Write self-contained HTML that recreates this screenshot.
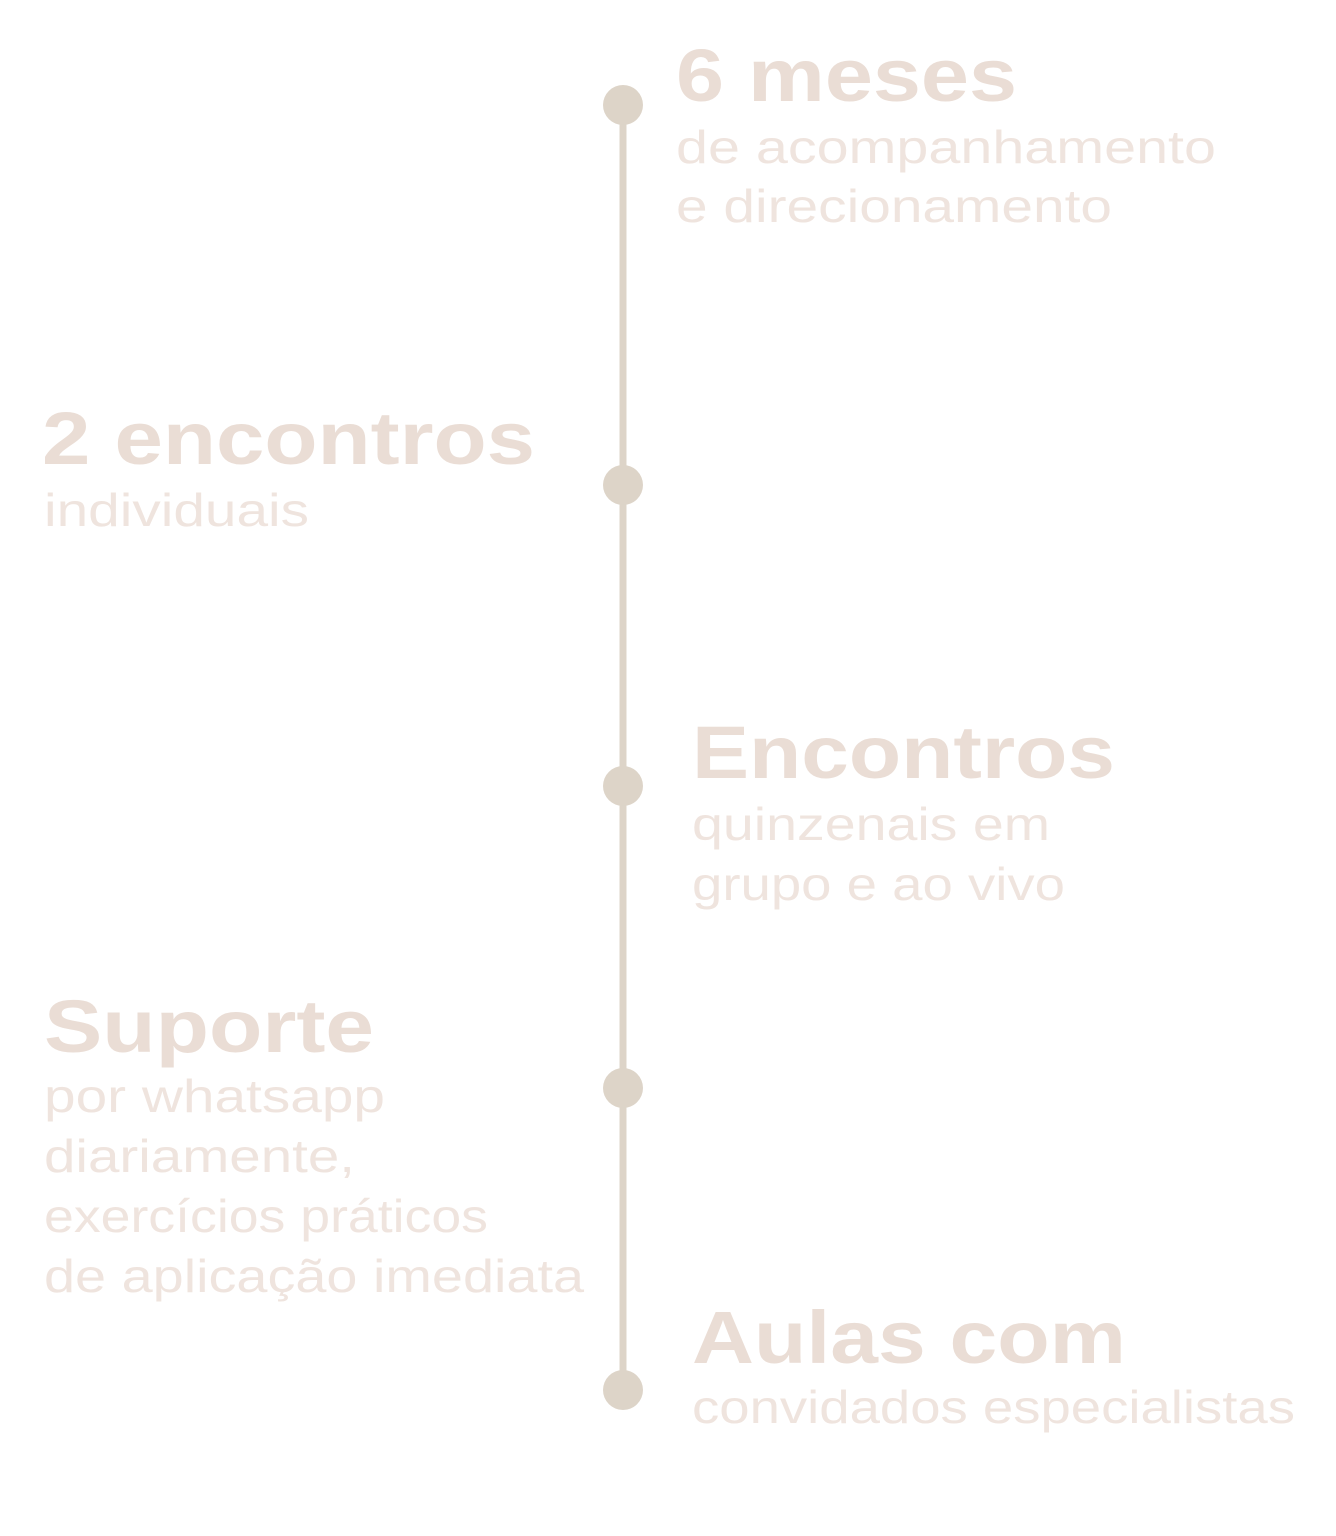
<!DOCTYPE html>
<html><head><meta charset="utf-8"><style>html,body{margin:0;padding:0;background:#fff}svg{display:block}</style></head>
<body>
<svg width="1336" height="1536" viewBox="0 0 1336 1536" xmlns="http://www.w3.org/2000/svg">
<rect width="1336" height="1536" fill="#fff"/>
<line x1="623" y1="105" x2="623" y2="1390" stroke="#ddd4c8" stroke-width="7"/>
<g fill="#ddd4c8">
<circle cx="623" cy="105" r="20"/><circle cx="623" cy="485" r="20"/><circle cx="623" cy="786" r="20"/><circle cx="623" cy="1088" r="20"/><circle cx="623" cy="1390" r="20"/>
</g>
<g font-family="Liberation Sans, sans-serif" font-weight="bold" font-size="74" fill="#eaddd5" lengthAdjust="spacingAndGlyphs">
<text x="676" y="101" textLength="341" lengthAdjust="spacingAndGlyphs">6 meses</text>
<text x="42" y="464" textLength="493" lengthAdjust="spacingAndGlyphs">2 encontros</text>
<text x="692" y="778" textLength="423" lengthAdjust="spacingAndGlyphs">Encontros</text>
<text x="44" y="1052" textLength="330" lengthAdjust="spacingAndGlyphs">Suporte</text>
<text x="692" y="1363" textLength="434" lengthAdjust="spacingAndGlyphs">Aulas com</text>
</g>
<g font-family="Liberation Sans, sans-serif" font-size="46" fill="#efe4de">
<text x="676" y="163" textLength="540" lengthAdjust="spacingAndGlyphs">de acompanhamento</text>
<text x="676" y="222" textLength="436" lengthAdjust="spacingAndGlyphs">e direcionamento</text>
<text x="44" y="526" textLength="265" lengthAdjust="spacingAndGlyphs">individuais</text>
<text x="692" y="840" textLength="358" lengthAdjust="spacingAndGlyphs">quinzenais em</text>
<text x="692" y="900" textLength="373" lengthAdjust="spacingAndGlyphs">grupo e ao vivo</text>
<text x="44" y="1112" textLength="341" lengthAdjust="spacingAndGlyphs">por whatsapp</text>
<text x="44" y="1172" textLength="311" lengthAdjust="spacingAndGlyphs">diariamente,</text>
<text x="44" y="1232" textLength="444" lengthAdjust="spacingAndGlyphs">exercícios práticos</text>
<text x="44" y="1292" textLength="540" lengthAdjust="spacingAndGlyphs">de aplicação imediata</text>
<text x="692" y="1423" textLength="603" lengthAdjust="spacingAndGlyphs">convidados especialistas</text>
</g>
</svg>
</body></html>
